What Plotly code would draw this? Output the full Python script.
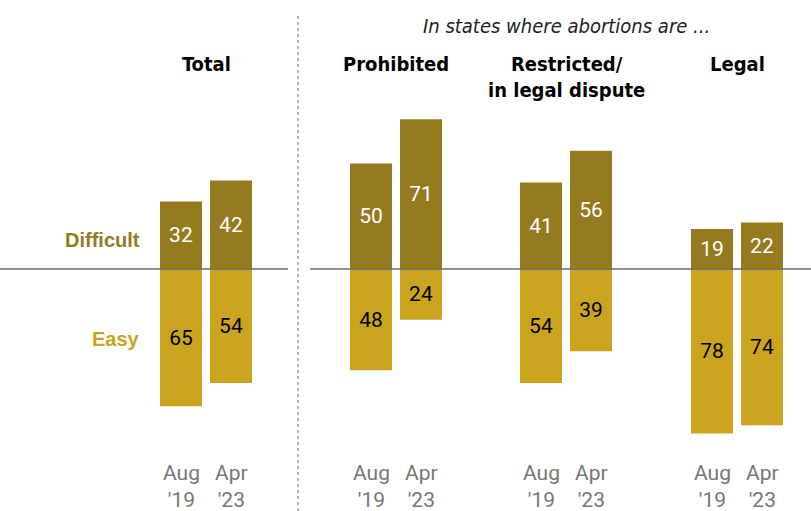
import plotly.graph_objects as go

# Share saying getting an abortion in their area would be difficult / easy
groups = ["Total", "Prohibited", "Restricted/<br>in legal dispute", "Legal"]
periods = ["Aug<br>'19", "Apr<br>'23"]
difficult = [[32, 42], [50, 71], [41, 56], [19, 22]]
easy = [[65, 54], [48, 24], [54, 39], [78, 74]]

DARK = "#967A1F"
LIGHT = "#CAA41F"
W, H = 811, 511
COND = "DejaVu Sans Condensed, Liberation Sans Narrow, Liberation Sans, sans-serif"

# horizontal layout (pixel-like x units)
group_centers = [206, 396, 566, 737]
bar_offset = 25
bar_width = 42

xs, d_vals, e_vals = [], [], []
for gi, c in enumerate(group_centers):
    for pi in range(2):
        xs.append(c + (pi * 2 - 1) * bar_offset)
        d_vals.append(difficult[gi][pi])
        e_vals.append(easy[gi][pi])

fig = go.Figure()
fig.add_trace(go.Bar(
    x=xs, y=d_vals, width=bar_width, marker=dict(color=DARK, line=dict(width=0)),
    text=[str(v) for v in d_vals], textposition="inside", insidetextanchor="middle",
    textfont=dict(color="white", size=21, family="Roboto"), textangle=0,
    cliponaxis=False, hoverinfo="skip"))
fig.add_trace(go.Bar(
    x=xs, y=[-v for v in e_vals], width=bar_width, marker=dict(color=LIGHT, line=dict(width=0)),
    text=[str(v) for v in e_vals], textposition="inside", insidetextanchor="middle",
    textfont=dict(color="black", size=21, family="Roboto"), textangle=0,
    cliponaxis=False, hoverinfo="skip"))

# vertical scale: baseline at y=269px, ~2.11 px per point
ppu = 2.11
base_px = 269
ymax = base_px / ppu
ymin = -(H - base_px) / ppu

def py(p):
    return 1 - p / H

shapes = [
    dict(type="line", xref="x", yref="y", x0=0, x1=288, y0=0, y1=0,
         line=dict(color="#6b6b6b", width=1.5)),
    dict(type="line", xref="x", yref="y", x0=310, x1=W, y0=0, y1=0,
         line=dict(color="#6b6b6b", width=1.5)),
    dict(type="line", xref="x", yref="paper", x0=298, x1=298, y0=0, y1=py(14),
         line=dict(color="#8a8a8a", width=1.3, dash="dot")),
]

head_font = dict(family=COND, size=20, color="black")
annotations = []
for c, g in zip(group_centers, groups):
    annotations.append(dict(x=c, y=py(50), xref="x", yref="paper", text=f"<b>{g}</b>",
                            showarrow=False, yanchor="top", xanchor="center",
                            font=head_font, align="center"))
annotations.append(dict(x=566, y=py(26), xref="x", yref="paper",
                        text="<i>In states where abortions are ...</i>", showarrow=False,
                        xanchor="center", yanchor="middle",
                        font=dict(family=COND, size=20, color="#222")))
for i, x in enumerate(xs):
    annotations.append(dict(x=x, y=py(486), xref="x", yref="paper",
                            text=periods[i % 2], showarrow=False,
                            xanchor="center", yanchor="middle",
                            font=dict(family="Roboto", size=21, color="#777")))
annotations.append(dict(x=142, y=py(240), xref="x", yref="paper", text="<b>Difficult</b>",
                        showarrow=False, xanchor="right", yanchor="middle",
                        font=dict(family="Liberation Sans", size=20, color=DARK)))
annotations.append(dict(x=142, y=py(339), xref="x", yref="paper", text="<b>Easy</b>",
                        showarrow=False, xanchor="right", yanchor="middle",
                        font=dict(family="Liberation Sans", size=20, color=LIGHT)))

fig.update_layout(
    width=W, height=H, margin=dict(l=0, r=0, t=0, b=0),
    paper_bgcolor="white", plot_bgcolor="white",
    barmode="overlay", showlegend=False,
    xaxis=dict(range=[0, W], visible=False, fixedrange=True),
    yaxis=dict(range=[ymin, ymax], visible=False, fixedrange=True),
    shapes=shapes, annotations=annotations,
    uniformtext=dict(minsize=21, mode="show"),
)

fig.write_html("out.html")
